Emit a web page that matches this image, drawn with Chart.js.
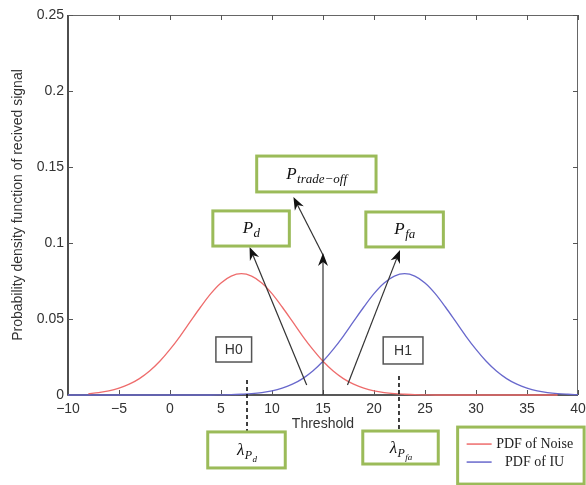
<!DOCTYPE html>
<html lang="en">
<head>
<meta charset="UTF-8">
<title>PDF of received signal vs threshold</title>
<script src="https://cdn.jsdelivr.net/npm/chart.js"></script>
<style>
  body { margin: 0; background: #fff; }
  #wrap { width: 586px; height: 485px; }
</style>
</head>
<body>
<div id="wrap"><canvas id="pdfChart" width="586" height="485"></canvas></div>
<script>
// threshold axis samples and the two curves
const thresholds = [-10, -9, -8, -7, -6, -5, -4, -3, -2, -1, 0, 1, 2, 3, 4, 5, 6, 7, 8, 9,
  10, 11, 12, 13, 14, 15, 16, 17, 18, 19, 20, 21, 22, 23, 24, 25, 26, 27, 28, 29,
  30, 31, 32, 33, 34, 35, 36, 37, 38, 39, 40];
const noisePdf = [null, null, 0.0009, 0.0016, 0.0027, 0.0045, 0.0071, 0.0108, 0.0158, 0.0222,
  0.0300, 0.0388, 0.0484, 0.0579, 0.0667, 0.0737, 0.0782, 0.0798, 0.0782, 0.0737,
  0.0667, 0.0579, 0.0484, 0.0388, 0.0300, 0.0222, 0.0158, 0.0108, 0.0071, 0.0045,
  0.0027, 0.0016, 0.0009, 0.0005, 0.0002, 0.0001, 0, 0, 0, 0,
  0, 0, 0, 0, 0, 0, 0, 0, 0, null, null];
const iuPdf = [0, 0, 0, 0, 0, 0, 0, 0, 0, 0,
  0, 0, 0, 0, 0, 0.0001, 0.0002, 0.0005, 0.0009, 0.0016,
  0.0027, 0.0045, 0.0071, 0.0108, 0.0158, 0.0222, 0.0300, 0.0388, 0.0484, 0.0579,
  0.0667, 0.0737, 0.0782, 0.0798, 0.0782, 0.0737, 0.0667, 0.0579, 0.0484, 0.0388,
  0.0300, 0.0222, 0.0158, 0.0108, 0.0071, 0.0045, 0.0027, 0.0016, 0.0009, 0.0005, 0.0002];
const seriesNames = ['PDF of Noise', 'PDF of IU'];
const xTickValues = [-10, -5, 0, 5, 10, 15, 20, 25, 30, 35, 40];
const yTickValues = [0, 0.05, 0.1, 0.15, 0.2, 0.25];

// annotation layout, in data units (threshold, pdf)
const GREEN = '#9bbb59';
const greenBoxes = [
  { x: [8.5, 20.2], y: [0.1572, 0.1336], text: [['P', 17, 0], ['trade\u2212off', 13, 4]] },
  { x: [4.2, 11.7], y: [0.1211, 0.0980], text: [['P', 17, 0], ['d', 13, 4]] },
  { x: [19.2, 26.8], y: [0.1204, 0.0974], text: [['P', 17, 0], ['fa', 13, 4]] },
  { x: [3.7, 11.3], y: [-0.0243, -0.0480], text: [['\u03bb', 17, 0], ['P', 12, 4], ['d', 9, 7]] },
  { x: [18.9, 26.3], y: [-0.0237, -0.0454], text: [['\u03bb', 17, 0], ['P', 12, 4], ['fa', 9, 7]] }
];
const hypBoxes = [
  { x: [4.5, 8.0], y: [0.0382, 0.0217], text: 'H0' },
  { x: [20.9, 24.8], y: [0.0382, 0.0204], text: 'H1' }
];
const arrows = [
  { from: [13.4, 0.0066], to: [7.8, 0.0974] },
  { from: [15.0, 0.0921], to: [12.1, 0.1303] },
  { from: [15.0, 0], to: [15.0, 0.0934] },
  { from: [17.4, 0.0066], to: [22.55, 0.0954] }
];
const dashed = [
  { x: 7.55, y: [0.0099, -0.0243] },
  { x: 22.45, y: [0.0125, -0.0237] }
];
const legendBox = { x: [28.2, 40.6], y: [-0.0211, -0.0586] };

function mathText(ctx, cx, cy, parts) {
  let total = 0;
  const widths = parts.map(p => {
    ctx.font = 'italic ' + p[1] + 'px "Liberation Serif"';
    const w = ctx.measureText(p[0]).width;
    total += w;
    return w;
  });
  let xx = cx - total / 2;
  ctx.fillStyle = '#111';
  ctx.textAlign = 'left';
  ctx.textBaseline = 'alphabetic';
  parts.forEach((p, i) => {
    ctx.font = 'italic ' + p[1] + 'px "Liberation Serif"';
    ctx.fillText(p[0], xx, cy + 5 + p[2]);
    xx += widths[i] + 0.5;
  });
}

function arrow(ctx, x1, y1, x2, y2) {
  const ang = Math.atan2(y2 - y1, x2 - x1);
  const c = Math.cos(ang), s = Math.sin(ang);
  const len = 13, half = 5, notch = 4;
  ctx.beginPath();
  ctx.moveTo(x1, y1);
  ctx.lineTo(x2 - c * (len - notch), y2 - s * (len - notch));
  ctx.stroke();
  const bx = x2 - c * len, by = y2 - s * len;
  ctx.beginPath();
  ctx.moveTo(x2, y2);
  ctx.lineTo(bx - s * half, by + c * half);
  ctx.lineTo(x2 - c * (len - notch), y2 - s * (len - notch));
  ctx.lineTo(bx + s * half, by - c * half);
  ctx.closePath();
  ctx.fill();
}

const frame = {
  id: 'frame',
  beforeDatasetsDraw(chart) {
    const { ctx, chartArea: a, scales: { x, y } } = chart;
    ctx.save();
    ctx.strokeStyle = '#666';
    ctx.lineWidth = 1;
    ctx.beginPath();
    ctx.moveTo(a.left, a.top + 0.5);
    ctx.lineTo(a.right - 0.5, a.top + 0.5);
    ctx.lineTo(a.right - 0.5, a.bottom);
    ctx.stroke();
    ctx.strokeStyle = '#222';
    ctx.lineWidth = 1.6;
    ctx.beginPath();
    ctx.moveTo(a.left, a.top);
    ctx.lineTo(a.left, a.bottom);
    ctx.lineTo(a.right, a.bottom);
    ctx.stroke();
    ctx.strokeStyle = '#555';
    ctx.lineWidth = 1;
    ctx.beginPath();
    xTickValues.forEach(v => {
      const px = Math.round(x.getPixelForValue(v)) + 0.5;
      ctx.moveTo(px, a.bottom); ctx.lineTo(px, a.bottom - 5);
      ctx.moveTo(px, a.top); ctx.lineTo(px, a.top + 5);
    });
    yTickValues.forEach(v => {
      const py = Math.round(y.getPixelForValue(v)) + 0.5;
      ctx.moveTo(a.left, py); ctx.lineTo(a.left + 5, py);
      ctx.moveTo(a.right, py); ctx.lineTo(a.right - 5, py);
    });
    ctx.stroke();
    ctx.restore();
  },
  afterDraw(chart) {
    const { ctx, scales: { x, y } } = chart;
    const X = v => x.getPixelForValue(v);
    const Y = v => y.getPixelForValue(v);
    ctx.save();

    // arrows
    ctx.strokeStyle = '#333';
    ctx.fillStyle = '#111';
    ctx.lineWidth = 1.2;
    arrows.forEach(ar => arrow(ctx, X(ar.from[0]), Y(ar.from[1]), X(ar.to[0]), Y(ar.to[1])));

    // dashed threshold markers
    ctx.strokeStyle = '#111';
    ctx.lineWidth = 1.6;
    ctx.setLineDash([4, 3]);
    dashed.forEach(d => {
      ctx.beginPath();
      ctx.moveTo(X(d.x), Y(d.y[0]));
      ctx.lineTo(X(d.x), Y(d.y[1]));
      ctx.stroke();
    });
    ctx.setLineDash([]);

    // H0 / H1
    hypBoxes.forEach(b => {
      const l = X(b.x[0]), r = X(b.x[1]), t = Y(b.y[0]), btm = Y(b.y[1]);
      ctx.fillStyle = '#fff';
      ctx.fillRect(l, t, r - l, btm - t);
      ctx.strokeStyle = '#555';
      ctx.lineWidth = 1.5;
      ctx.strokeRect(l, t, r - l, btm - t);
      ctx.fillStyle = '#333';
      ctx.font = '14px "Liberation Sans"';
      ctx.textAlign = 'center';
      ctx.textBaseline = 'middle';
      ctx.fillText(b.text, (l + r) / 2, (t + btm) / 2 + 1);
    });

    // green labelled boxes
    greenBoxes.forEach(b => {
      const l = X(b.x[0]), r = X(b.x[1]), t = Y(b.y[0]), btm = Y(b.y[1]);
      ctx.fillStyle = '#fff';
      ctx.fillRect(l, t, r - l, btm - t);
      ctx.strokeStyle = GREEN;
      ctx.lineWidth = 3;
      ctx.strokeRect(l, t, r - l, btm - t);
      mathText(ctx, (l + r) / 2, (t + btm) / 2, b.text);
    });

    // legend
    const l = X(legendBox.x[0]), r = X(legendBox.x[1]);
    const t = Y(legendBox.y[0]), btm = Y(legendBox.y[1]);
    ctx.fillStyle = '#fff';
    ctx.fillRect(l, t, r - l, btm - t);
    ctx.strokeStyle = GREEN;
    ctx.lineWidth = 3;
    ctx.strokeRect(l, t, r - l, btm - t);
    chart.data.datasets.forEach((ds, i) => {
      const ly = t + 17 + i * 18;
      ctx.strokeStyle = ds.borderColor;
      ctx.lineWidth = 1.5;
      ctx.beginPath();
      ctx.moveTo(l + 9, ly);
      ctx.lineTo(l + 34, ly);
      ctx.stroke();
      ctx.fillStyle = '#222';
      ctx.font = '14px "Liberation Serif"';
      ctx.textAlign = 'center';
      ctx.textBaseline = 'middle';
      ctx.fillText(ds.label, l + 77, ly);
    });
    ctx.restore();
  }
};

const tickFont = { family: '"Liberation Sans", Arial, sans-serif', size: 14 };

new Chart(document.getElementById('pdfChart'), {
  type: 'line',
  data: {
    datasets: [
      {
        label: seriesNames[0],
        data: thresholds.map((t, i) => ({ x: t, y: noisePdf[i] })),
        borderColor: 'rgb(238, 108, 108)',
        borderWidth: 1.3,
        pointRadius: 0,
        cubicInterpolationMode: 'monotone',
        spanGaps: false,
        clip: 4
      },
      {
        label: seriesNames[1],
        data: thresholds.map((t, i) => ({ x: t, y: iuPdf[i] })),
        borderColor: 'rgb(104, 104, 204)',
        borderWidth: 1.3,
        pointRadius: 0,
        cubicInterpolationMode: 'monotone',
        clip: 4
      }
    ]
  },
  options: {
    responsive: false,
    animation: false,
    events: [],
    layout: { padding: { top: 15, right: 0, left: 0, bottom: 0 } },
    plugins: { legend: { display: false }, tooltip: { enabled: false } },
    scales: {
      x: {
        type: 'linear',
        min: -10,
        max: 40,
        grid: { display: false, drawTicks: false },
        border: { display: false },
        afterBuildTicks: s => { s.ticks = xTickValues.map(v => ({ value: v })); },
        afterFit: s => { s.height = 90; s.paddingLeft = 0; s.paddingRight = 8; },
        ticks: {
          padding: 6,
          color: '#333',
          font: tickFont,
          maxRotation: 0,
          callback: v => String(v).replace('-', '\u2212')
        },
        title: {
          display: true,
          text: 'Threshold',
          color: '#333',
          font: tickFont,
          padding: { top: 0, bottom: 52 }
        }
      },
      y: {
        min: 0,
        max: 0.25,
        grid: { display: false, drawTicks: false },
        border: { display: false },
        afterBuildTicks: s => { s.ticks = yTickValues.map(v => ({ value: v })); },
        afterFit: s => { s.width = 68; },
        ticks: {
          padding: 4,
          color: '#333',
          font: tickFont,
          callback: v => String(v)
        },
        title: {
          display: true,
          text: 'Probability density function of recived signal',
          color: '#333',
          font: { family: '"Liberation Sans", Arial, sans-serif', size: 14 },
          padding: { top: 10, bottom: 0 }
        }
      }
    }
  },
  plugins: [frame]
});
</script>
</body>
</html>
